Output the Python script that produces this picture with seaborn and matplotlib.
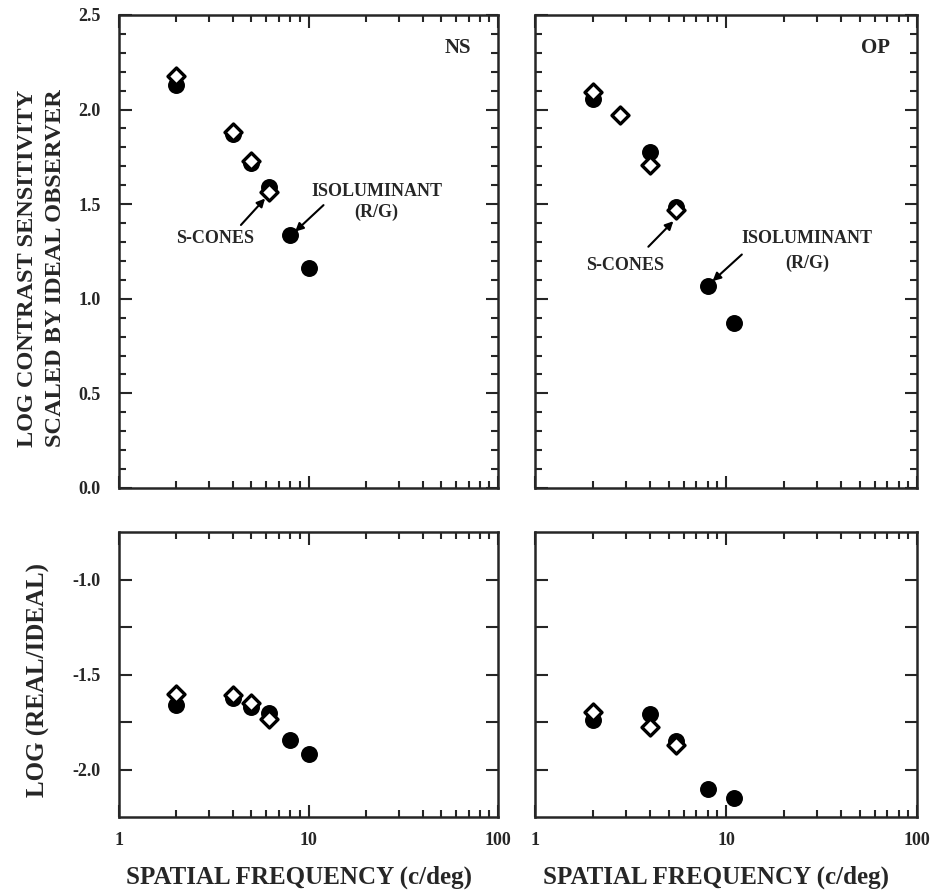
import pandas as pd
import seaborn as sns
import matplotlib.pyplot as plt
from matplotlib.ticker import LogLocator, MultipleLocator, FormatStrFormatter, NullFormatter, FixedLocator

# NS observer
ns_freq_s = [2, 4, 5, 6.2]
ns_top_s = [2.18, 1.88, 1.73, 1.565]
ns_bot_s = [-1.60, -1.61, -1.65, -1.733]
ns_freq_rg = [2, 4, 5, 6.2, 8, 10]
ns_top_rg = [2.13, 1.87, 1.72, 1.59, 1.335, 1.16]
ns_bot_rg = [-1.66, -1.625, -1.67, -1.705, -1.847, -1.92]

# OP observer
op_freq_s_top = [2, 2.8, 4, 5.5]
op_top_s = [2.095, 1.969, 1.705, 1.468]
op_freq_s_bot = [2, 4, 5.5]
op_bot_s = [-1.699, -1.778, -1.87]
op_freq_rg = [2, 4, 5.5, 8, 11]
op_top_rg = [2.057, 1.776, 1.486, 1.069, 0.870]
op_bot_rg = [-1.739, -1.708, -1.85, -2.10, -2.151]

sns.set_style('ticks')
plt.rcParams['font.family'] = ['Liberation Serif', 'DejaVu Serif']
plt.rcParams['font.weight'] = 'bold'

fig = plt.figure(figsize=(9.35, 8.9), dpi=100)
ax_tl = fig.add_axes([0.1273, 0.4517, 0.4053, 0.5315])
ax_tr = fig.add_axes([0.5722, 0.4517, 0.4086, 0.5315])
ax_bl = fig.add_axes([0.1273, 0.0820, 0.4053, 0.3202])
ax_br = fig.add_axes([0.5722, 0.0820, 0.4086, 0.3202])


def draw_points(ax, fx_rg, y_rg, fx_s, y_s):
    df_rg = pd.DataFrame({'freq': fx_rg, 'val': y_rg})
    df_s = pd.DataFrame({'freq': fx_s, 'val': y_s})
    sns.scatterplot(data=df_rg, x='freq', y='val', ax=ax, marker='o', s=125,
                    color='black', edgecolor='black', linewidth=1, zorder=3)
    sns.scatterplot(data=df_s, x='freq', y='val', ax=ax, marker='D', s=75,
                    color='white', edgecolor='black', linewidth=2.4, zorder=4)


draw_points(ax_tl, ns_freq_rg, ns_top_rg, ns_freq_s, ns_top_s)
draw_points(ax_tr, op_freq_rg, op_top_rg, op_freq_s_top, op_top_s)
draw_points(ax_bl, ns_freq_rg, ns_bot_rg, ns_freq_s, ns_bot_s)
draw_points(ax_br, op_freq_rg, op_bot_rg, op_freq_s_bot, op_bot_s)

for ax in [ax_tl, ax_tr, ax_bl, ax_br]:
    ax.set_xscale('log')
    ax.set_xlim(1, 100)
    ax.xaxis.set_major_locator(LogLocator(base=10))
    ax.xaxis.set_minor_locator(LogLocator(base=10, subs=range(2, 10)))
    ax.xaxis.set_minor_formatter(NullFormatter())
    ax.set_xlabel('')
    ax.set_ylabel('')
    for sp in ax.spines.values():
        sp.set_visible(True)
        sp.set_linewidth(1.8)
    ax.tick_params(which='both', direction='in', top=True, right=True,
                   width=1.5, labelsize=13)
    ax.tick_params(axis='x', pad=11)
    ax.tick_params(axis='y', pad=13)
    ax.tick_params(which='major', length=9)
    ax.tick_params(which='minor', length=5)

for ax in [ax_tl, ax_tr]:
    ax.set_ylim(0, 2.5)
    ax.yaxis.set_major_locator(MultipleLocator(0.5))
    ax.yaxis.set_minor_locator(MultipleLocator(0.1))
    ax.yaxis.set_major_formatter(FormatStrFormatter('%.1f'))
    ax.tick_params(axis='x', labelbottom=False)

for ax in [ax_bl, ax_br]:
    ax.set_ylim(-2.25, -0.75)
    ax.yaxis.set_major_locator(MultipleLocator(0.5))
    ax.yaxis.set_minor_locator(FixedLocator([-1.75, -1.25]))
    ax.yaxis.set_major_formatter(FormatStrFormatter('%.1f'))
    ax.tick_params(axis='y', which='minor', length=9)
    ax.xaxis.set_major_formatter(FormatStrFormatter('%g'))
    ax.set_xlabel('SPATIAL FREQUENCY (c/deg)', fontsize=18, fontweight='bold', labelpad=12)
    ax.xaxis.label.set_x(0.475)

for ax in [ax_tr, ax_br]:
    ax.tick_params(axis='y', labelleft=False)

ax_tl.text(0.93, 0.93, 'NS', transform=ax_tl.transAxes, ha='right', va='center',
           fontsize=15, fontweight='bold')
ax_tr.text(0.93, 0.93, 'OP', transform=ax_tr.transAxes, ha='right', va='center',
           fontsize=15, fontweight='bold')

arrow = dict(arrowstyle='-|>', color='black', lw=1.5, mutation_scale=12, shrinkA=0, shrinkB=0)

# NS annotations
ax_tl.annotate('', xy=(5.9, 1.53), xytext=(4.4, 1.39), arrowprops=arrow)
ax_tl.text(3.2, 1.32, 'S-CONES', ha='center', va='center', fontsize=13, fontweight='bold')
ax_tl.annotate('', xy=(8.5, 1.355), xytext=(12.0, 1.495), arrowprops=arrow)
ax_tl.text(22.9, 1.568, 'ISOLUMINANT', ha='center', va='center', fontsize=13, fontweight='bold')
ax_tl.text(22.9, 1.459, '(R/G)', ha='center', va='center', fontsize=13, fontweight='bold')

# OP annotations
ax_tr.annotate('', xy=(5.3, 1.41), xytext=(3.92, 1.275), arrowprops=arrow)
ax_tr.text(2.96, 1.178, 'S-CONES', ha='center', va='center', fontsize=13, fontweight='bold')
ax_tr.annotate('', xy=(8.5, 1.093), xytext=(12.1, 1.234), arrowprops=arrow)
ax_tr.text(26.5, 1.319, 'ISOLUMINANT', ha='center', va='center', fontsize=13, fontweight='bold')
ax_tr.text(26.5, 1.187, '(R/G)', ha='center', va='center', fontsize=13, fontweight='bold')

fig.text(0.044, 1 - 268 / 890, 'LOG CONTRAST SENSITIVITY\nSCALED BY IDEAL OBSERVER',
         rotation=90, ha='center', va='center', fontsize=17.5, fontweight='bold',
         linespacing=1.45)
fig.text(0.041, 1 - 680 / 890, 'LOG (REAL/IDEAL)', rotation=90, ha='center',
         va='center', fontsize=18, fontweight='bold')

plt.savefig('out.png', dpi=100)
plt.close()
